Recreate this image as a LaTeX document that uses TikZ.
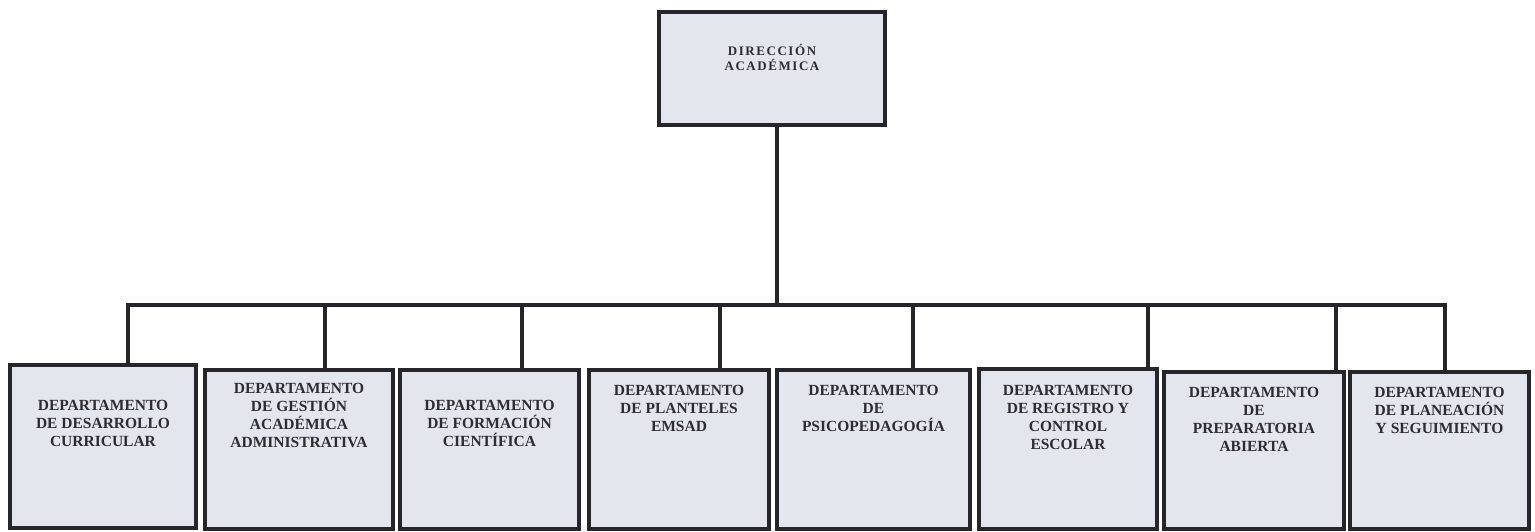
\documentclass[tikz,border=0pt]{standalone}
\usepackage{fontspec}
\setmainfont{Liberation Serif}
\definecolor{boxfill}{RGB}{228,230,238}
\definecolor{linec}{RGB}{38,38,42}
\definecolor{txtc}{RGB}{45,45,50}
\begin{document}
\begin{tikzpicture}[x=1pt,y=-1pt,
  box/.style={draw=linec,line width=4pt,fill=boxfill,anchor=north west,inner sep=0pt},
  lbl/.style={font=\bfseries\fontsize{15.5}{18}\selectfont,text=txtc,align=center,anchor=north,inner sep=0pt},
  toplbl/.style={font=\bfseries\fontsize{13}{15}\selectfont\addfontfeature{LetterSpace=12},text=txtc,align=center,anchor=north,inner sep=0pt},
  conn/.style={draw=linec,line width=4pt,line join=miter}]
\fill[white] (0,0) rectangle (1535,531);
\useasboundingbox (0,0) rectangle (1535,531);
% boxes
\node[box,minimum width=226pt,minimum height=113pt] (top) at (657,10) {};
\node[box,minimum width=186pt,minimum height=163pt] (b1) at (8,363) {};
\node[box,minimum width=188pt,minimum height=159pt] (b2) at (203,368) {};
\node[box,minimum width=179pt,minimum height=159pt] (b3) at (398,368) {};
\node[box,minimum width=180pt,minimum height=159pt] (b4) at (587,368) {};
\node[box,minimum width=193pt,minimum height=159pt] (b5) at (775,368) {};
\node[box,minimum width=178pt,minimum height=160pt] (b6) at (977,367) {};
\node[box,minimum width=180pt,minimum height=157pt] (b7) at (1162,370) {};
\node[box,minimum width=179pt,minimum height=157pt] (b8) at (1348,370) {};
% labels
\node[toplbl] (tt) at (top.north |- 0,44) {DIRECCIÓN\\ACADÉMICA};
\node[lbl] (t1) at (b1.north |- 0,400) {DEPARTAMENTO\\DE DESARROLLO\\CURRICULAR};
\node[lbl] (t2) at (b2.north |- 0,383) {DEPARTAMENTO\\DE GESTIÓN\\ACADÉMICA\\ADMINISTRATIVA};
\node[lbl] (t3) at (b3.north |- 0,400) {DEPARTAMENTO\\DE FORMACIÓN\\CIENTÍFICA};
\node[lbl] (t4) at (b4.north |- 0,385) {DEPARTAMENTO\\DE PLANTELES\\EMSAD};
\node[lbl] (t5) at (b5.north |- 0,385) {DEPARTAMENTO\\DE\\PSICOPEDAGOGÍA};
\node[lbl] (t6) at (b6.north |- 0,385) {DEPARTAMENTO\\DE REGISTRO Y\\CONTROL\\ESCOLAR};
\node[lbl] (t7) at (b7.north |- 0,387) {DEPARTAMENTO\\DE\\PREPARATORIA\\ABIERTA};
\node[lbl] (t8) at (b8.north |- 0,387) {DEPARTAMENTO\\DE PLANEACIÓN\\Y SEGUIMIENTO};
% connectors
\coordinate (j) at (777,305);
\coordinate (d1) at (128,305);
\coordinate (d2) at (325,305);
\coordinate (d3) at (522,305);
\coordinate (d4) at (720,305);
\coordinate (d5) at (913,305);
\coordinate (d6) at (1148,305);
\coordinate (d7) at (1336,305);
\coordinate (d8) at (1445,305);
\draw[conn] (top.south -| j) -- (j);
\draw[conn] (b1.north -| d1) -- (d1) -- (d8) -- (b8.north -| d8);
\draw[conn] (d2) -- (b2.north -| d2);
\draw[conn] (d3) -- (b3.north -| d3);
\draw[conn] (d4) -- (b4.north -| d4);
\draw[conn] (d5) -- (b5.north -| d5);
\draw[conn] (d6) -- (b6.north -| d6);
\draw[conn] (d7) -- (b7.north -| d7);
\end{tikzpicture}
\end{document}
